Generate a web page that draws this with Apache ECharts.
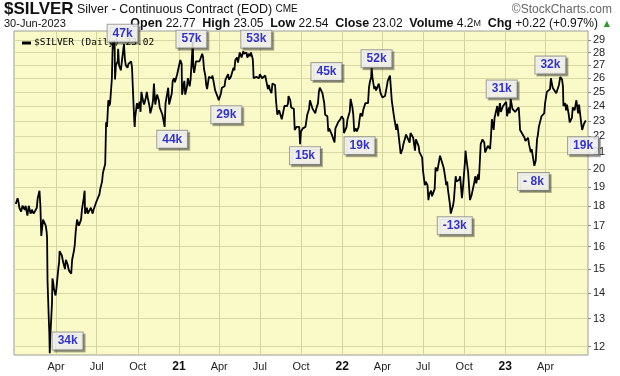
<!DOCTYPE html>
<html><head><meta charset="utf-8">
<script src="https://cdn.jsdelivr.net/npm/echarts@6/dist/echarts.min.js"></script>
<style>html,body{margin:0;padding:0;background:#fff}#c{width:620px;height:376px}</style>
</head><body><div id="c"></div>
<script>
// ---- price data (daily close samples) ----
const dates2020 = ['2020-01-02','2020-01-06','2020-01-08','2020-01-10','2020-01-14','2020-01-17','2020-01-22','2020-01-24','2020-01-28','2020-01-31','2020-02-04','2020-02-07','2020-02-11','2020-02-14','2020-02-18','2020-02-20','2020-02-24','2020-02-26','2020-02-28','2020-03-03','2020-03-05','2020-03-09','2020-03-11','2020-03-12','2020-03-13','2020-03-16','2020-03-17','2020-03-18','2020-03-19','2020-03-20','2020-03-23','2020-03-24','2020-03-26','2020-03-27','2020-03-31','2020-04-02','2020-04-06','2020-04-08','2020-04-09','2020-04-14','2020-04-17','2020-04-21','2020-04-23','2020-04-27','2020-04-29','2020-05-01','2020-05-05','2020-05-07','2020-05-11','2020-05-13','2020-05-15','2020-05-18','2020-05-20','2020-05-22','2020-05-27','2020-05-29','2020-06-02','2020-06-04','2020-06-05','2020-06-09','2020-06-11','2020-06-15','2020-06-18','2020-06-22','2020-06-24','2020-06-26','2020-06-30','2020-07-02','2020-07-07','2020-07-09','2020-07-13','2020-07-15','2020-07-20','2020-07-21','2020-07-22','2020-07-24','2020-07-27','2020-07-29','2020-07-31','2020-08-03','2020-08-04','2020-08-05','2020-08-06','2020-08-07','2020-08-10','2020-08-11','2020-08-13','2020-08-17','2020-08-18','2020-08-20','2020-08-24','2020-08-26','2020-08-28','2020-08-31','2020-09-02','2020-09-04','2020-09-08','2020-09-10','2020-09-14','2020-09-16','2020-09-18','2020-09-21','2020-09-23','2020-09-24','2020-09-25','2020-09-29','2020-10-01','2020-10-05','2020-10-07','2020-10-09','2020-10-13','2020-10-15','2020-10-19','2020-10-21','2020-10-23','2020-10-27','2020-10-29','2020-11-02','2020-11-04','2020-11-06','2020-11-09','2020-11-11','2020-11-13','2020-11-17','2020-11-19','2020-11-23','2020-11-25','2020-11-30','2020-12-02','2020-12-04','2020-12-08','2020-12-10','2020-12-14','2020-12-16','2020-12-18','2020-12-21','2020-12-23','2020-12-28','2020-12-31'];
const closes2020 = [18.1,18.4,18.2,17.9,17.7,18.0,17.8,18.0,17.5,18.0,17.6,17.8,17.6,17.7,17.9,18.4,18.8,18.0,16.5,17.3,17.3,17.0,16.7,16.4,14.5,12.9,12.5,11.77,12.3,12.6,13.6,14.6,14.4,14.2,13.9,14.2,15.0,15.3,15.8,15.6,15.3,15.0,15.4,15.2,15.0,14.9,14.8,15.4,15.8,16.1,16.7,17.3,17.4,17.0,17.3,17.8,18.4,18.8,17.6,17.9,17.6,17.5,17.9,17.6,17.8,17.9,18.2,18.1,18.6,18.9,19.3,19.8,20.3,21.5,22.9,22.6,24.4,24.0,24.2,24.3,26.0,27.5,28.8,28.3,29.0,25.9,27.0,27.3,28.3,27.0,26.6,27.2,27.8,28.7,27.5,27.0,26.8,27.1,27.2,27.3,26.8,24.4,23.0,22.6,23.2,24.2,23.8,24.3,23.6,25.0,24.3,24.1,24.6,25.0,24.6,24.0,23.5,24.0,24.4,25.6,24.1,24.2,24.8,24.4,23.9,23.8,23.4,22.6,24.2,24.2,25.3,24.1,24.1,24.9,25.8,26.0,25.7,26.3,26.4];
const dates2021 = ['2021-01-04','2021-01-06','2021-01-07','2021-01-08','2021-01-11','2021-01-13','2021-01-15','2021-01-19','2021-01-21','2021-01-25','2021-01-27','2021-01-29','2021-02-01','2021-02-02','2021-02-04','2021-02-08','2021-02-10','2021-02-12','2021-02-16','2021-02-19','2021-02-22','2021-02-24','2021-02-26','2021-03-01','2021-03-03','2021-03-05','2021-03-09','2021-03-11','2021-03-15','2021-03-17','2021-03-19','2021-03-23','2021-03-25','2021-03-29','2021-03-31','2021-04-05','2021-04-07','2021-04-09','2021-04-13','2021-04-15','2021-04-19','2021-04-21','2021-04-23','2021-04-27','2021-04-29','2021-05-03','2021-05-05','2021-05-07','2021-05-11','2021-05-13','2021-05-17','2021-05-19','2021-05-21','2021-05-25','2021-05-27','2021-06-01','2021-06-03','2021-06-07','2021-06-09','2021-06-11','2021-06-15','2021-06-16','2021-06-17','2021-06-21','2021-06-23','2021-06-25','2021-06-29','2021-07-01','2021-07-06','2021-07-08','2021-07-13','2021-07-15','2021-07-19','2021-07-21','2021-07-23','2021-07-27','2021-07-29','2021-08-02','2021-08-04','2021-08-06','2021-08-09','2021-08-11','2021-08-13','2021-08-17','2021-08-19','2021-08-23','2021-08-25','2021-08-27','2021-08-31','2021-09-02','2021-09-03','2021-09-07','2021-09-09','2021-09-13','2021-09-15','2021-09-17','2021-09-21','2021-09-23','2021-09-27','2021-09-29','2021-10-01','2021-10-05','2021-10-07','2021-10-11','2021-10-13','2021-10-15','2021-10-19','2021-10-21','2021-10-25','2021-10-27','2021-10-29','2021-11-02','2021-11-04','2021-11-08','2021-11-10','2021-11-12','2021-11-16','2021-11-18','2021-11-22','2021-11-24','2021-11-29','2021-12-01','2021-12-03','2021-12-07','2021-12-09','2021-12-13','2021-12-15','2021-12-17','2021-12-21','2021-12-23','2021-12-28','2021-12-31'];
const closes2021 = [27.4,27.3,27.1,24.8,24.9,25.8,24.8,25.4,26.0,25.4,25.9,27.0,28.9,26.9,26.4,27.3,27.3,27.3,27.3,27.3,27.9,27.6,26.7,26.2,25.5,25.2,26.1,26.0,26.0,26.2,26.2,25.1,25.0,24.6,24.4,24.9,25.3,25.3,25.4,25.9,25.8,26.3,25.9,26.1,26.2,26.8,26.6,27.4,27.6,27.2,28.0,28.0,27.6,28.1,27.9,28.0,27.6,27.9,27.7,28.0,27.5,26.9,26.0,26.0,26.1,26.1,26.0,26.3,26.0,26.1,26.2,26.2,25.2,25.5,25.2,24.9,25.6,25.6,25.5,24.4,23.4,23.5,23.7,23.8,23.1,23.7,24.0,24.0,24.0,24.2,24.7,24.4,23.9,23.8,23.8,22.4,22.6,22.6,22.6,21.5,22.3,22.5,22.5,22.6,23.0,23.4,23.8,24.4,24.4,23.8,23.9,23.5,23.8,24.2,25.0,25.3,25.3,24.9,24.2,23.4,23.3,22.3,22.5,22.4,22.1,22.2,21.6,22.5,22.6,22.9,23.1,23.3];
const dates2022 = ['2022-01-04','2022-01-05','2022-01-07','2022-01-11','2022-01-13','2022-01-18','2022-01-20','2022-01-24','2022-01-26','2022-01-28','2022-02-01','2022-02-03','2022-02-07','2022-02-09','2022-02-11','2022-02-15','2022-02-17','2022-02-22','2022-02-24','2022-02-28','2022-03-02','2022-03-04','2022-03-07','2022-03-08','2022-03-10','2022-03-14','2022-03-16','2022-03-18','2022-03-22','2022-03-24','2022-03-28','2022-03-30','2022-04-01','2022-04-05','2022-04-07','2022-04-11','2022-04-13','2022-04-18','2022-04-20','2022-04-22','2022-04-26','2022-04-28','2022-05-02','2022-05-04','2022-05-06','2022-05-10','2022-05-12','2022-05-16','2022-05-18','2022-05-20','2022-05-24','2022-05-26','2022-06-01','2022-06-03','2022-06-07','2022-06-09','2022-06-13','2022-06-15','2022-06-17','2022-06-21','2022-06-23','2022-06-27','2022-06-29','2022-07-01','2022-07-05','2022-07-07','2022-07-11','2022-07-13','2022-07-15','2022-07-19','2022-07-21','2022-07-25','2022-07-27','2022-07-29','2022-08-02','2022-08-04','2022-08-08','2022-08-10','2022-08-12','2022-08-16','2022-08-18','2022-08-22','2022-08-24','2022-08-26','2022-08-30','2022-09-01','2022-09-06','2022-09-08','2022-09-12','2022-09-14','2022-09-16','2022-09-20','2022-09-22','2022-09-26','2022-09-28','2022-09-30','2022-10-03','2022-10-04','2022-10-06','2022-10-10','2022-10-12','2022-10-14','2022-10-18','2022-10-20','2022-10-24','2022-10-26','2022-10-28','2022-11-01','2022-11-03','2022-11-07','2022-11-09','2022-11-11','2022-11-15','2022-11-17','2022-11-21','2022-11-23','2022-11-28','2022-11-30','2022-12-02','2022-12-06','2022-12-08','2022-12-12','2022-12-14','2022-12-16','2022-12-20','2022-12-22','2022-12-27','2022-12-30'];
const closes2022 = [23.1,22.2,22.3,22.6,23.1,23.6,24.5,23.9,23.4,22.3,22.5,22.3,22.6,23.1,23.5,23.3,23.7,24.2,24.2,24.2,25.3,25.7,26.1,26.8,26.0,25.2,25.4,25.1,25.0,25.6,24.9,25.0,24.6,24.6,24.7,25.4,25.8,26.2,25.3,24.4,23.5,23.1,22.4,22.8,22.4,21.4,20.9,21.2,21.5,21.6,22.1,22.0,21.6,22.2,22.1,21.9,21.1,21.8,21.8,21.4,21.0,21.1,20.7,19.9,19.1,19.3,19.1,18.3,18.6,18.8,18.5,18.4,18.9,20.1,19.9,20.2,20.8,20.7,20.8,20.1,19.8,19.1,19.3,18.8,18.1,17.6,18.0,18.3,19.6,19.3,19.4,19.4,19.6,18.4,18.9,19.0,20.5,21.1,20.6,19.8,19.0,18.3,18.6,18.6,19.3,19.6,19.2,19.7,19.4,21.5,21.4,21.8,21.6,21.0,20.9,21.4,21.2,22.0,23.1,22.4,23.2,23.2,24.0,23.3,24.2,23.6,24.0,24.0];
const dates2023 = ['2023-01-03','2023-01-05','2023-01-09','2023-01-11','2023-01-13','2023-01-17','2023-01-19','2023-01-23','2023-01-25','2023-01-27','2023-01-31','2023-02-02','2023-02-03','2023-02-07','2023-02-09','2023-02-13','2023-02-15','2023-02-17','2023-02-21','2023-02-23','2023-02-27','2023-03-01','2023-03-03','2023-03-07','2023-03-08','2023-03-10','2023-03-13','2023-03-15','2023-03-17','2023-03-21','2023-03-23','2023-03-27','2023-03-29','2023-03-31','2023-04-04','2023-04-06','2023-04-11','2023-04-13','2023-04-17','2023-04-19','2023-04-21','2023-04-25','2023-04-27','2023-05-01','2023-05-03','2023-05-04','2023-05-08','2023-05-10','2023-05-11','2023-05-15','2023-05-17','2023-05-19','2023-05-23','2023-05-25','2023-05-30','2023-06-01','2023-06-05','2023-06-07','2023-06-09','2023-06-13','2023-06-15','2023-06-20','2023-06-22','2023-06-26','2023-06-28','2023-06-29','2023-06-30'];
const closes2023 = [24.3,23.3,23.9,23.5,24.5,23.8,23.9,23.6,23.6,23.7,23.9,23.0,22.4,22.2,22.1,21.9,21.7,21.7,21.9,21.5,21.0,21.2,21.2,20.2,20.1,20.5,21.8,22.1,22.6,22.5,23.3,23.3,23.5,24.2,25.0,25.0,25.2,26.0,25.3,25.2,25.2,24.9,25.1,25.5,25.6,26.1,25.9,25.4,24.0,24.2,23.7,24.1,23.4,22.9,23.2,23.9,23.7,23.7,24.4,23.5,24.1,22.8,22.4,22.8,22.8,22.7,23.02];

// ---- axes ----
const yTicks = [12,13,14,15,16,17,18,19,20,21,22,23,24,25,26,27,28,29];
const xTickDates = ['2020-04-01','2020-07-01','2020-10-01','2021-01-01','2021-04-01','2021-07-01','2021-10-01','2022-01-01','2022-04-01','2022-07-01','2022-10-01','2023-01-01','2023-04-01'];
const monthNames = ['Jan','Feb','Mar','Apr','May','Jun','Jul','Aug','Sep','Oct','Nov','Dec'];
const xMin = '2019-12-29', xMax = '2023-07-05';
const yMin = 11.71, yMax = 29.79;

// ---- volume annotations (label box centre, in chart units) ----
const annDates  = ['2020-08-28','2021-01-29','2020-12-17','2021-04-17','2021-06-23','2021-10-10','2021-11-27','2022-02-09','2022-03-19','2022-12-24','2023-04-12','2022-09-10','2023-03-05','2023-06-24','2020-04-27'];
const annValues = [29.6,29.1,21.8,23.4,29.1,20.8,26.5,21.4,27.5,25.2,27.0,17.0,19.3,21.4,12.19];
const annTexts  = ['47k','57k','44k','29k','53k','15k','45k','19k','52k','31k','32k','-13k','- 8k','19k','34k'];

function ts(s){const p=s.split('-').map(Number);return Date.UTC(p[0],p[1]-1,p[2]);}
const allDates = dates2020.concat(dates2021, dates2022, dates2023);
const allCloses = closes2020.concat(closes2021, closes2022, closes2023);
const lineData = allDates.map((d,i)=>[ts(d), allCloses[i]]);
const xTicks = xTickDates.map(ts);
const annData = annDates.map((d,i)=>[ts(d), annValues[i], annTexts[i]]);

const FONT = 'Liberation Sans, Arial, sans-serif';
const chart = echarts.init(document.getElementById('c'), null, {renderer:'canvas'});
chart.setOption({
  animation:false,
  backgroundColor:'#ffffff',
  grid:{left:14,right:32,top:31,bottom:21,show:true,backgroundColor:'#fafac8',borderColor:'#9c9c9c',borderWidth:1},
  legend:{
    data:[{name:'$SILVER',icon:'rect'}],left:17,top:33,itemWidth:9,itemHeight:3,z:1,
    selectedMode:false,
    formatter:()=> '$SILVER (Daily) ' + allCloses[allCloses.length-1].toFixed(2),
    textStyle:{fontFamily:'DejaVu Sans Mono, monospace',fontSize:9.5,color:'#000',padding:[0,0,0,-2]}
  },
  xAxis:{
    type:'value',min:ts(xMin),max:ts(xMax),scale:true,
    axisLine:{show:false},
    axisTick:{show:false,customValues:xTicks},
    axisLabel:{customValues:xTicks,fontFamily:FONT,fontSize:11,color:'#222',margin:6,
      formatter:(v)=>{const d=new Date(v);return d.getUTCMonth()===0?'{yr|'+String(d.getUTCFullYear()).slice(2)+'}':monthNames[d.getUTCMonth()];},
      rich:{yr:{fontWeight:'bold',fontSize:12,fontFamily:FONT,color:'#111'}}},
    splitLine:{show:true,lineStyle:{color:'#d4d4a0',width:1}}
  },
  yAxis:{
    type:'log',logBase:10,min:yMin,max:yMax,position:'right',
    axisLine:{show:false},
    axisTick:{show:true,customValues:yTicks,length:3,lineStyle:{color:'#888'}},
    axisLabel:{customValues:yTicks,fontFamily:FONT,fontSize:11,color:'#222',margin:5},
    splitLine:{show:true,lineStyle:{color:'#d9d9a6',width:1}}
  },
  series:[
    {name:'$SILVER',type:'line',data:lineData,showSymbol:false,symbol:'none',z:3,
     lineStyle:{color:'#000',width:1.8},itemStyle:{color:'#000'},silent:true},
    {name:'ann',type:'scatter',data:annData,symbolSize:0,z:10,silent:true,
     label:{show:true,position:'inside',formatter:(p)=>p.value[2],
       fontFamily:FONT,fontSize:12,fontWeight:'bold',color:'#0000c8',
       backgroundColor:'#ffffff',borderColor:'#8a8a8a',borderWidth:1,padding:[3,5,2,5],
       shadowColor:'rgba(0,0,0,0.35)',shadowOffsetX:2,shadowOffsetY:2,shadowBlur:0}}
  ],
  graphic:[
    {type:'text',left:4,top:1,style:{text:'{a|$SILVER} {b|Silver - Continuous Contract (EOD)} {c|CME}',
      rich:{a:{fontFamily:FONT,fontSize:17,fontWeight:'bold',fill:'#111'},b:{fontFamily:FONT,fontSize:12.5,fill:'#111'},c:{fontFamily:FONT,fontSize:10,fill:'#111'}}}},
    {type:'text',right:8,top:4,style:{text:'©StockCharts.com',fontFamily:FONT,fontSize:12,fill:'#666'}},
    {type:'text',left:4,top:18,style:{text:'30-Jun-2023',fontFamily:FONT,fontSize:11,fill:'#111'}},
    {type:'text',right:22,top:17,style:{
      text:'{l|Open} {n|22.77}  {l|High} {n|23.05}  {l|Low} {n|22.54}  {l|Close} {n|23.02}  {l|Volume} {n|4.2}{s|M}  {l|Chg} {n|+0.22 (+0.97%)}',
      rich:{l:{fontFamily:FONT,fontSize:12.5,fontWeight:'bold',fill:'#111'},n:{fontFamily:FONT,fontSize:12,fill:'#111'},s:{fontFamily:FONT,fontSize:9,fill:'#111'}}}},
    {type:'text',right:10,top:20,style:{text:'▲',fontFamily:'DejaVu Sans',fontSize:8,fill:'#2a9a2a'}}
  ]
});
</script></body></html>
